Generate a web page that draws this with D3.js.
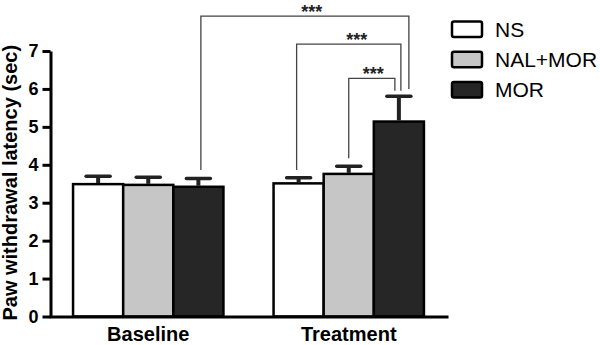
<!DOCTYPE html>
<html>
<head>
<meta charset="utf-8">
<script src="https://cdn.jsdelivr.net/npm/d3@7"></script>
<style>
  body { margin: 0; background: #fff; }
  svg { display: block; font-family: "Liberation Sans", Arial, sans-serif; }
</style>
</head>
<body>
<div id="chart"></div>
<script>
// donnees
const groups = ["Baseline", "Treatment"];
const series = ["NS", "NAL+MOR", "MOR"];
const seriesColors = ["#ffffff", "#c6c6c6", "#262626"];

const nsMean = [3.49, 3.51];
const nsSem = [0.21, 0.15];
const nalMean = [3.47, 3.76];
const nalSem = [0.20, 0.20];
const morMean = [3.42, 5.14];
const morSem = [0.22, 0.67];

const yTicks = [0, 1, 2, 3, 4, 5, 6, 7];

// comparaisons significatives
const sigLabels = ["***", "***", "***"];
const sigFrom = [["Baseline", "MOR"], ["Treatment", "NS"], ["Treatment", "NAL+MOR"]];
const sigTo = [["Treatment", "MOR"], ["Treatment", "MOR"], ["Treatment", "MOR"]];
const sigLevel = [7.92, 7.18, 6.28];
const sigFromEnd = [3.86, 3.86, 4.17];
const sigToEnd = [6.0, 5.95, 5.95];

// table pour les barres
const means = [nsMean, nalMean, morMean];
const sems = [nsSem, nalSem, morSem];
const rows = [];
groups.forEach((g, gi) => {
    series.forEach((s, si) => {
        rows.push({ group: g, serie: s, color: seriesColors[si], mean: means[si][gi], sem: sems[si][gi] });
    });
});

const width = 600, height = 345;

const svg = d3.select("#chart")
    .append("svg")
    .attr("width", width)
    .attr("height", height);

// echelles
const x0 = d3.scaleBand()
    .domain(groups)
    .range([49, 448])
    .paddingInner(0.25)
    .paddingOuter(0.12);

const x1 = d3.scaleBand()
    .domain(series)
    .range([0, x0.bandwidth()]);

const y = d3.scaleLinear()
    .domain([0, 7])
    .range([316.5, 51]);

const xc = (g, s) => x0(g) + x1(s) + x1.bandwidth() / 2;

// barres
svg.append("g")
    .selectAll("rect")
    .data(rows)
    .enter()
    .append("rect")
    .attr("x", d => x0(d.group) + x1(d.serie))
    .attr("y", d => y(d.mean))
    .attr("width", x1.bandwidth())
    .attr("height", d => y(0) - y(d.mean))
    .style("fill", d => d.color)
    .style("stroke", "#000")
    .style("stroke-width", 2.5);

// barres d'erreur (vers le haut seulement)
const err = svg.append("g");
err.selectAll("line.stem")
    .data(rows)
    .enter()
    .append("line")
    .attr("class", "stem")
    .attr("x1", d => xc(d.group, d.serie))
    .attr("x2", d => xc(d.group, d.serie))
    .attr("y1", d => y(d.mean) - 1)
    .attr("y2", d => y(d.mean + d.sem))
    .style("stroke", "#222")
    .style("stroke-width", 4);

err.selectAll("line.cap")
    .data(rows)
    .enter()
    .append("line")
    .attr("class", "cap")
    .attr("x1", d => xc(d.group, d.serie) - 12)
    .attr("x2", d => xc(d.group, d.serie) + 12)
    .attr("y1", d => y(d.mean + d.sem))
    .attr("y2", d => y(d.mean + d.sem))
    .style("stroke", "#222")
    .style("stroke-width", 3.5)
    .style("stroke-linecap", "round");

// axes
const axisY = svg.append("g")
    .attr("transform", "translate(50.5,0)")
    .call(d3.axisLeft(y).tickValues(yTicks).tickFormat(d3.format("d")).tickSize(8).tickSizeOuter(0).tickPadding(4));
axisY.selectAll("path, line").style("stroke", "#000").style("stroke-width", 3);
axisY.selectAll("text")
    .style("font-size", "18px")
    .style("font-weight", "bold")
    .style("fill", "#000")
    .style("font-family", "Liberation Sans, Arial, sans-serif");

const axisX = svg.append("g")
    .attr("transform", "translate(0," + y(0) + ")")
    .call(d3.axisBottom(x0).tickSize(0).tickSizeOuter(0).tickPadding(10.5));
axisX.selectAll("path").style("stroke", "#000").style("stroke-width", 3);
axisX.selectAll("text")
    .style("font-size", "20px")
    .style("font-weight", "bold")
    .style("fill", "#000")
    .style("font-family", "Liberation Sans, Arial, sans-serif");

// titre de l'axe Y
svg.append("text")
    .text("Paw withdrawal latency (sec)")
    .attr("text-anchor", "middle")
    .attr("transform", "rotate(-90)")
    .attr("x", -(y(0) + y(7)) / 2 + 1)
    .attr("y", 17)
    .style("font-size", "20px")
    .style("font-weight", "bold")
    .style("fill", "#000");

// crochets de significativite
const sigNudge = [[2.5, 10, 7], [-2, 2, 8], [0, -4, 1.5]];
const sig = svg.append("g");
sigLabels.forEach((lab, i) => {
    const xa = xc(sigFrom[i][0], sigFrom[i][1]) + sigNudge[i][0];
    const xb = xc(sigTo[i][0], sigTo[i][1]) + sigNudge[i][1];
    const top = y(sigLevel[i]);
    sig.append("path")
        .attr("d", `M${xa},${y(sigFromEnd[i])}V${top}H${xb}V${y(sigToEnd[i])}`)
        .attr("fill", "none")
        .style("stroke", "#444")
        .style("stroke-width", 1.3);
    sig.append("text")
        .text(lab)
        .attr("x", (xa + xb) / 2 + sigNudge[i][2])
        .attr("y", top + 2)
        .attr("text-anchor", "middle")
        .style("font-size", "18px")
        .style("font-weight", "bold")
        .style("fill", "#222");
});

// legende
const legend = svg.append("g")
    .selectAll("g")
    .data(series)
    .enter()
    .append("g")
    .attr("transform", (d, i) => "translate(452," + (21.5 + i * 30.3) + ")");

legend.append("rect")
    .attr("width", 30)
    .attr("height", 15.5)
    .attr("rx", 2)
    .style("fill", (d, i) => seriesColors[i])
    .style("stroke", "#000")
    .style("stroke-width", 2.5);

legend.append("text")
    .text(d => d)
    .attr("x", 43)
    .attr("y", 15.3)
    .style("font-size", "21px")
    .style("fill", "#000");
</script>
</body>
</html>
